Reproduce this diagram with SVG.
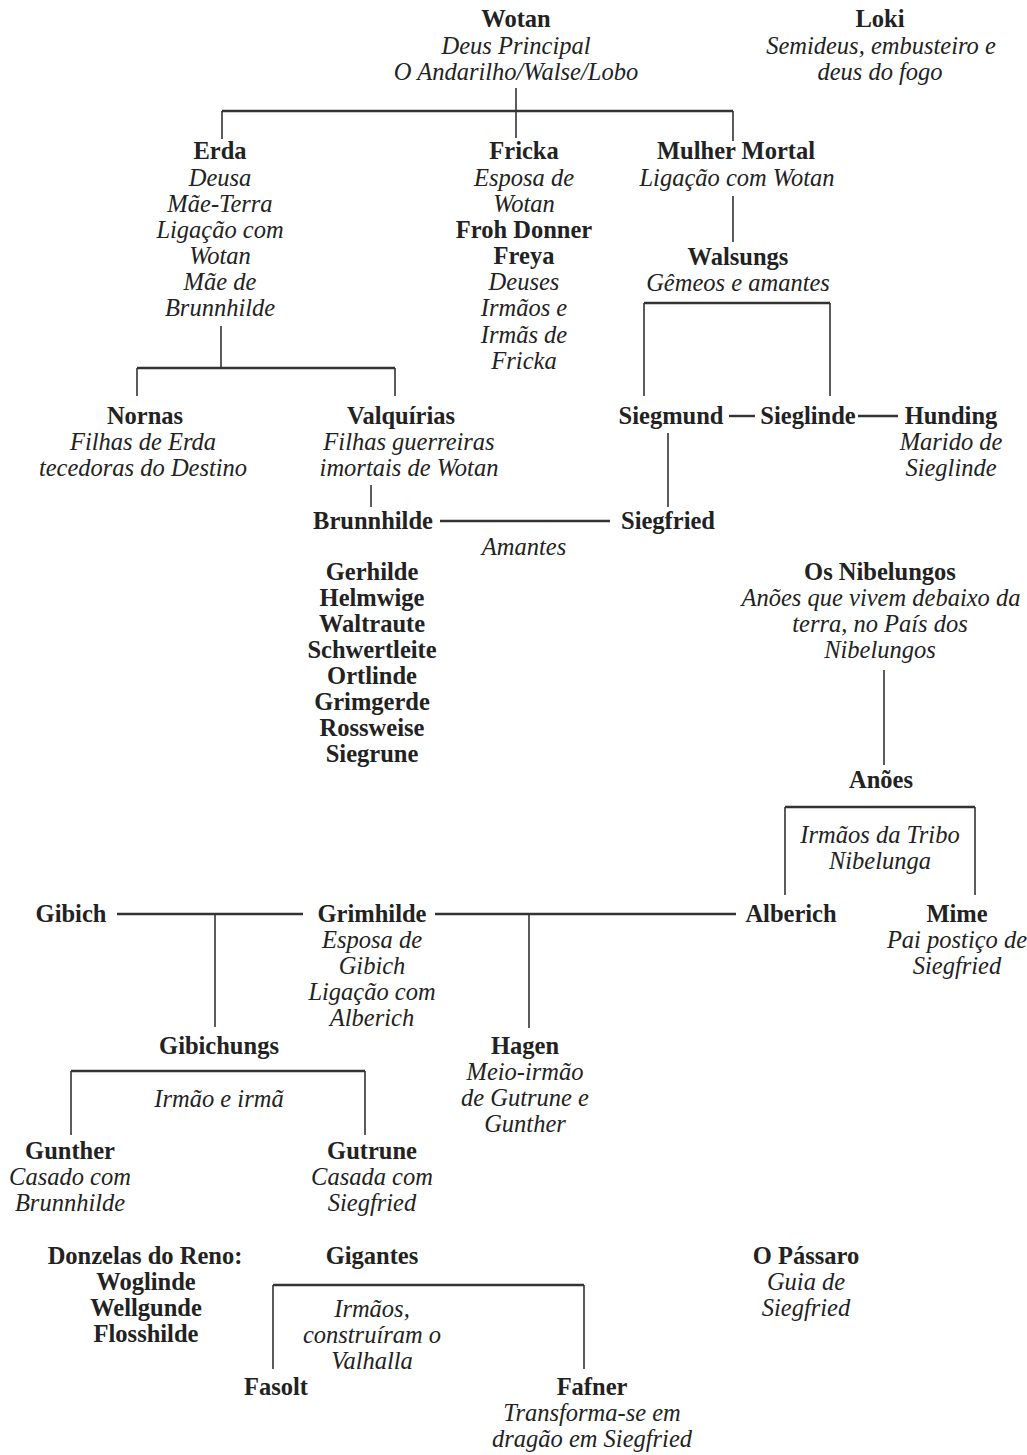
<svg xmlns="http://www.w3.org/2000/svg" width="1027" height="1455" viewBox="0 0 1027 1455">
<style>
text{font-family:"Liberation Serif","Times New Roman",serif;font-size:24.5px;fill:#222;text-anchor:middle}
.n{font-weight:bold}
.d{font-style:italic}
.c line{stroke:#333;stroke-width:1.6}
.c line.h{stroke-width:2.4}
</style>
<rect width="1027" height="1455" fill="#fff"/>
<g class="c" id="connectors">
<line x1="516" y1="88" x2="516" y2="138"/>
<line class="h" x1="222" y1="111" x2="733" y2="111"/>
<line x1="222" y1="111" x2="222" y2="139"/>
<line x1="733" y1="111" x2="733" y2="141"/>
<line x1="733" y1="196" x2="733" y2="242"/>
<line class="h" x1="644" y1="303" x2="830" y2="303"/>
<line x1="644" y1="303" x2="644" y2="396"/>
<line x1="830" y1="303" x2="830" y2="396"/>
<line x1="221" y1="326" x2="221" y2="368"/>
<line class="h" x1="137" y1="368" x2="395" y2="368"/>
<line x1="137" y1="368" x2="137" y2="396"/>
<line x1="395" y1="368" x2="395" y2="396"/>
<line class="h" x1="729" y1="416" x2="755" y2="416"/>
<line class="h" x1="858" y1="416" x2="898" y2="416"/>
<line x1="668" y1="433" x2="668" y2="507"/>
<line x1="371" y1="485" x2="371" y2="507"/>
<line class="h" x1="440" y1="521" x2="610" y2="521"/>
<line x1="884" y1="670" x2="884" y2="765"/>
<line class="h" x1="785" y1="807" x2="975" y2="807"/>
<line x1="785" y1="807" x2="785" y2="895"/>
<line x1="975" y1="807" x2="975" y2="895"/>
<line class="h" x1="117" y1="914" x2="303" y2="914"/>
<line x1="215" y1="914" x2="215" y2="1027"/>
<line class="h" x1="435" y1="914" x2="736" y2="914"/>
<line x1="529" y1="914" x2="529" y2="1028"/>
<line class="h" x1="71" y1="1071" x2="365" y2="1071"/>
<line x1="71" y1="1071" x2="71" y2="1135"/>
<line x1="365" y1="1071" x2="365" y2="1135"/>
<line class="h" x1="273" y1="1285" x2="584" y2="1285"/>
<line x1="273" y1="1285" x2="273" y2="1369"/>
<line x1="584" y1="1285" x2="584" y2="1369"/>
</g>
<g id="wotan"><text class="n" x="516" y="27">Wotan</text><text class="d" x="516" y="54">Deus Principal</text><text class="d" x="516" y="80">O Andarilho/Walse/Lobo</text></g>
<g id="loki"><text class="n" x="880" y="27">Loki</text><text class="d" x="881" y="54">Semideus, embusteiro e</text><text class="d" x="880" y="80">deus do fogo</text></g>
<g id="erda"><text class="n" x="220" y="159">Erda</text><text class="d" x="220" y="186">Deusa</text><text class="d" x="220" y="212">Mãe-Terra</text><text class="d" x="220" y="238">Ligação com</text><text class="d" x="220" y="264">Wotan</text><text class="d" x="220" y="290">Mãe de</text><text class="d" x="220" y="316">Brunnhilde</text></g>
<g id="fricka"><text class="n" x="524" y="159">Fricka</text><text class="d" x="524" y="186">Esposa de</text><text class="d" x="524" y="212">Wotan</text><text class="n" x="524" y="238">Froh Donner</text><text class="n" x="524" y="264">Freya</text><text class="d" x="524" y="290">Deuses</text><text class="d" x="524" y="316">Irmãos e</text><text class="d" x="524" y="343">Irmãs de</text><text class="d" x="524" y="369">Fricka</text></g>
<g id="mulher"><text class="n" x="736" y="159">Mulher Mortal</text><text class="d" x="737" y="186">Ligação com Wotan</text></g>
<g id="walsungs"><text class="n" x="738" y="265">Walsungs</text><text class="d" x="738" y="291">Gêmeos e amantes</text></g>
<g id="nornas"><text class="n" x="145" y="424">Nornas</text><text class="d" x="143" y="450">Filhas de Erda</text><text class="d" x="143" y="476">tecedoras do Destino</text></g>
<g id="valquirias"><text class="n" x="401" y="424">Valquírias</text><text class="d" x="409" y="450">Filhas guerreiras</text><text class="d" x="409" y="476">imortais de Wotan</text></g>
<g id="siegmund"><text class="n" x="671" y="424">Siegmund</text></g>
<g id="sieglinde"><text class="n" x="808" y="424">Sieglinde</text></g>
<g id="hunding"><text class="n" x="951" y="424">Hunding</text><text class="d" x="951" y="450">Marido de</text><text class="d" x="951" y="476">Sieglinde</text></g>
<g id="brunnhilde"><text class="n" x="373" y="529">Brunnhilde</text></g>
<g id="siegfried"><text class="n" x="668" y="529">Siegfried</text></g>
<g id="amantes"><text class="d" x="524" y="555">Amantes</text></g>
<g id="valkyries"><text class="n" x="372" y="580">Gerhilde</text><text class="n" x="372" y="606">Helmwige</text><text class="n" x="372" y="632">Waltraute</text><text class="n" x="372" y="658">Schwertleite</text><text class="n" x="372" y="684">Ortlinde</text><text class="n" x="372" y="710">Grimgerde</text><text class="n" x="372" y="736">Rossweise</text><text class="n" x="372" y="762">Siegrune</text></g>
<g id="nibelungos"><text class="n" x="880" y="580">Os Nibelungos</text><text class="d" x="881" y="606">Anões que vivem debaixo da</text><text class="d" x="880" y="632">terra, no País dos</text><text class="d" x="880" y="658">Nibelungos</text></g>
<g id="anoes"><text class="n" x="881" y="788">Anões</text><text class="d" x="880" y="843">Irmãos da Tribo</text><text class="d" x="880" y="869">Nibelunga</text></g>
<g id="alberich"><text class="n" x="791" y="922">Alberich</text></g>
<g id="mime"><text class="n" x="957" y="922">Mime</text><text class="d" x="957" y="948">Pai postiço de</text><text class="d" x="957" y="974">Siegfried</text></g>
<g id="gibich"><text class="n" x="71" y="922">Gibich</text></g>
<g id="grimhilde"><text class="n" x="372" y="922">Grimhilde</text><text class="d" x="372" y="948">Esposa de</text><text class="d" x="372" y="974">Gibich</text><text class="d" x="372" y="1000">Ligação com</text><text class="d" x="372" y="1026">Alberich</text></g>
<g id="gibichungs"><text class="n" x="219" y="1054">Gibichungs</text><text class="d" x="219" y="1107">Irmão e irmã</text></g>
<g id="hagen"><text class="n" x="525" y="1054">Hagen</text><text class="d" x="525" y="1080">Meio-irmão</text><text class="d" x="525" y="1106">de Gutrune e</text><text class="d" x="525" y="1132">Gunther</text></g>
<g id="gunther"><text class="n" x="70" y="1159">Gunther</text><text class="d" x="70" y="1185">Casado com</text><text class="d" x="70" y="1211">Brunnhilde</text></g>
<g id="gutrune"><text class="n" x="372" y="1159">Gutrune</text><text class="d" x="372" y="1185">Casada com</text><text class="d" x="372" y="1211">Siegfried</text></g>
<g id="donzelas"><text class="n" x="145" y="1264">Donzelas do Reno:</text><text class="n" x="146" y="1290">Woglinde</text><text class="n" x="146" y="1316">Wellgunde</text><text class="n" x="146" y="1342">Flosshilde</text></g>
<g id="gigantes"><text class="n" x="372" y="1264">Gigantes</text><text class="d" x="372" y="1317">Irmãos,</text><text class="d" x="372" y="1343">construíram o</text><text class="d" x="372" y="1369">Valhalla</text></g>
<g id="passaro"><text class="n" x="806" y="1264">O Pássaro</text><text class="d" x="806" y="1290">Guia de</text><text class="d" x="806" y="1316">Siegfried</text></g>
<g id="fasolt"><text class="n" x="276" y="1395">Fasolt</text></g>
<g id="fafner"><text class="n" x="592" y="1395">Fafner</text><text class="d" x="592" y="1421">Transforma-se em</text><text class="d" x="592" y="1447">dragão em Siegfried</text></g>
</svg>
